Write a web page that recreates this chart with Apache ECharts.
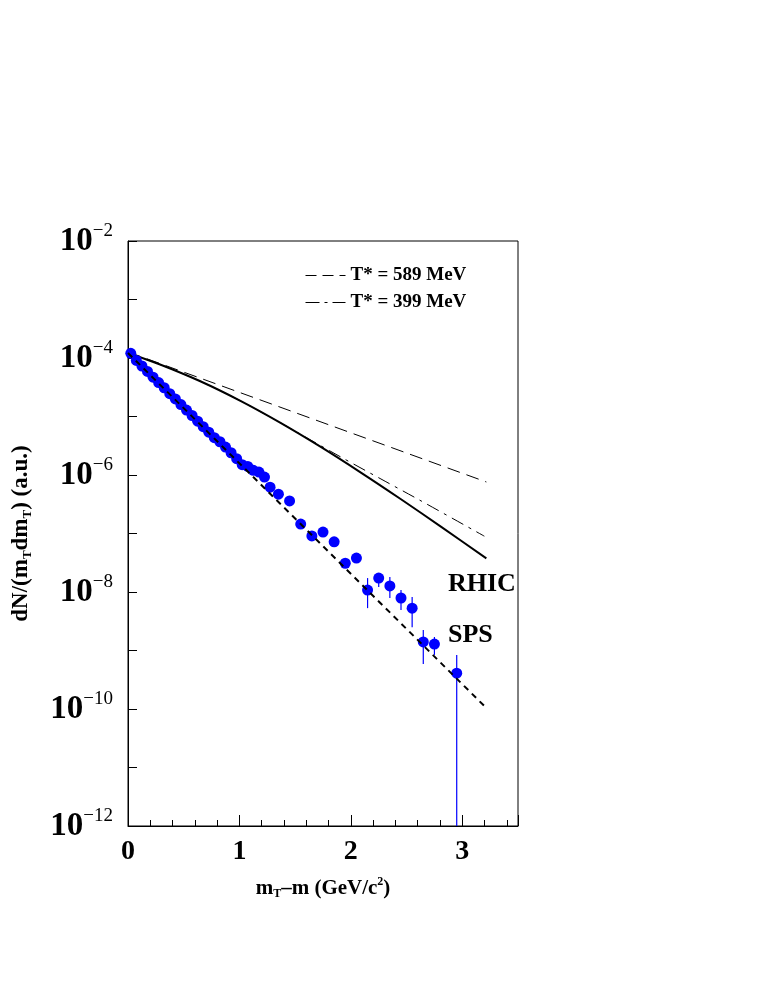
<!DOCTYPE html>
<html>
<head>
<meta charset="utf-8">
<script src="https://cdn.jsdelivr.net/npm/echarts@6/dist/echarts.min.js"></script>
<style>
  html, body { margin: 0; background: #fff; }
  #chart { width: 763px; height: 987px; }
</style>
</head>
<body>
<div id="chart"></div>
<script>
// SPS data (blue points)
const spsX = [0.025, 0.075, 0.125, 0.175, 0.225, 0.275, 0.325, 0.375, 0.425, 0.475,
  0.525, 0.575, 0.625, 0.675, 0.725, 0.775, 0.825, 0.875, 0.925, 0.975,
  1.025, 1.075, 1.125, 1.175, 1.225, 1.275, 1.35, 1.45, 1.55, 1.65,
  1.75, 1.85, 1.95, 2.05, 2.15, 2.25, 2.35, 2.45, 2.55, 2.65, 2.75, 2.95];
const spsY = [1.2e-4, 9.1e-5, 7.3e-5, 5.9e-5, 4.7e-5, 3.8e-5, 3.1e-5, 2.45e-5, 2.0e-5, 1.6e-5,
  1.29e-5, 1.04e-5, 8.3e-6, 6.7e-6, 5.4e-6, 4.35e-6, 3.7e-6, 3.0e-6, 2.4e-6, 1.9e-6,
  1.5e-6, 1.4e-6, 1.2e-6, 1.12e-6, 9.2e-7, 6.2e-7, 4.7e-7, 3.6e-7, 1.45e-7, 9.1e-8,
  1.06e-7, 7.2e-8, 3.1e-8, 3.8e-8, 1.08e-8, 1.73e-8, 1.27e-8, 7.9e-9, 5.3e-9, 1.4e-9, 1.29e-9, 4.1e-10];

// error bars (only where visible)
const errX = [2.15, 2.25, 2.35, 2.45, 2.55, 2.65, 2.75, 2.95];
const errLo = [5.3e-9, 1.22e-8, 7.9e-9, 4.9e-9, 2.5e-9, 5.9e-10, 8.4e-10, 1e-12];
const errHi = [1.73e-8, 2.1e-8, 1.8e-8, 1.08e-8, 8.2e-9, 2.24e-9, 1.7e-9, 8.4e-10];

// RHIC curve (solid)
const rhicX = [0, 0.288, 0.649, 1.009, 1.369, 1.73, 2.09, 2.45, 2.811, 3.216];
const rhicY = [1.22e-4, 7.74e-5, 4.0e-5, 1.85e-5, 7.78e-6, 3.02e-6, 1.10e-6, 3.85e-7, 1.30e-7, 3.75e-8];

// T* = 399 MeV (dash-dot)
const t399X = [0, 0.288, 0.649, 1.009, 1.369, 1.55, 1.91, 2.27, 2.631, 3.198];
const t399Y = [1.22e-4, 7.74e-5, 4.0e-5, 1.85e-5, 7.78e-6, 4.94e-6, 2.03e-6, 8.55e-7, 3.6e-7, 9.0e-8];

// T* = 589 MeV (dashed)
const t589X = [0, 3.216];
const t589Y = [1.27e-4, 7.6e-7];

// SPS exponential fit (dashed)
const fitX = [0, 3.216];
const fitY = [1.22e-4, 1.04e-10];

const xTickLabels = [0, 1, 2, 3];

const pair = (xs, ys) => xs.map((x, i) => [x, ys[i]]);
const serif = 'Liberation Serif';

let chart = echarts.init(document.getElementById('chart'));
let option = {
  backgroundColor: '#fff',
  animation: false,
  grid: {
    left: 128, right: 245, top: 241, bottom: 161,
    show: true, borderColor: '#000', borderWidth: 1, backgroundColor: 'transparent'
  },
  legend: {
    orient: 'vertical',
    left: 305, top: 266, padding: 0,
    itemWidth: 40, itemHeight: 10, itemGap: 8,
    data: [
      { name: 'T* = 589 MeV', itemStyle: { opacity: 0 }, lineStyle: { color: '#000', width: 1, type: [11, 6] } },
      { name: 'T* = 399 MeV', itemStyle: { opacity: 0 }, lineStyle: { color: '#000', width: 1, type: [14, 5, 3, 5] } }
    ],
    textStyle: { fontFamily: serif, fontWeight: 'bold', fontSize: 19, color: '#000' }
  },
  xAxis: [
    {
      type: 'value', min: 0, max: 3.5, interval: 0.2,
      axisLine: { lineStyle: { color: '#000', width: 1 } },
      axisTick: { inside: true, length: 6, lineStyle: { color: '#000' } },
      axisLabel: { show: false },
      splitLine: { show: false }
    },
    {
      type: 'value', min: 0, max: 3.5, interval: 1, position: 'bottom',
      axisLine: { show: false },
      axisTick: { inside: true, length: 11, lineStyle: { color: '#000' } },
      axisLabel: {
        margin: 12, fontFamily: serif, fontWeight: 'bold', fontSize: 28, color: '#000',
        formatter: v => (xTickLabels.indexOf(v) >= 0 ? String(v) : '')
      },
      splitLine: { show: false },
      name: '{a|m}{s|T}{a|\u2013m (GeV/c}{p|2}{a|)}',
      nameLocation: 'middle', nameGap: 50,
      nameTextStyle: {
        rich: {
          a: { fontFamily: serif, fontWeight: 'bold', fontSize: 21, color: '#000' },
          s: { fontFamily: serif, fontWeight: 'bold', fontSize: 12, color: '#000', padding: [11, 0, 0, 0] },
          p: { fontFamily: serif, fontWeight: 'bold', fontSize: 12, color: '#000', padding: [0, 0, 13, 0] }
        }
      }
    }
  ],
  yAxis: {
    type: 'log', logBase: 10, min: 1e-12, max: 1e-2, splitNumber: 10,
    axisLine: { lineStyle: { color: '#000', width: 1 } },
    axisTick: { inside: true, length: 9, lineStyle: { color: '#000' } },
    splitLine: { show: false },
    axisLabel: {
      margin: 15,
      formatter: v => {
        const e = Math.round(Math.log10(v));
        return e % 2 === 0 ? '{b|10}{s|\u2212' + Math.abs(e) + '}' : '';
      },
      rich: {
        b: { fontFamily: serif, fontWeight: 'bold', fontSize: 33, color: '#000' },
        s: { fontFamily: serif, fontSize: 19, color: '#000', padding: [0, 0, 20, 0] }
      }
    },
    name: '{a|dN/(m}{s|T}{a|dm}{s|T}{a|) (a.u.)}',
    nameLocation: 'middle', nameGap: 94,
    nameTextStyle: {
      rich: {
        a: { fontFamily: serif, fontWeight: 'bold', fontSize: 23, color: '#000' },
        s: { fontFamily: serif, fontWeight: 'bold', fontSize: 13, color: '#000', padding: [12, 0, 0, 0] }
      }
    }
  },
  graphic: [
    { type: 'text', left: 448, top: 571, style: { text: 'RHIC', font: 'bold 26px "Liberation Serif"', fill: '#000' } },
    { type: 'text', left: 448, top: 622, style: { text: 'SPS', font: 'bold 26px "Liberation Serif"', fill: '#000' } }
  ],
  series: [
    {
      name: 'T* = 589 MeV', type: 'line', symbol: 'none', data: pair(t589X, t589Y),
      itemStyle: { color: '#000' },
      lineStyle: { color: '#000', width: 1, type: [13, 7] }, z: 2
    },
    {
      name: 'T* = 399 MeV', type: 'line', symbol: 'none', smooth: 0.3, data: pair(t399X, t399Y),
      itemStyle: { color: '#000' },
      lineStyle: { color: '#000', width: 1, type: [13, 6, 3, 6] }, z: 2
    },
    {
      name: 'RHIC', type: 'line', symbol: 'none', smooth: 0.3, data: pair(rhicX, rhicY),
      itemStyle: { color: '#000' },
      lineStyle: { color: '#000', width: 2 }, z: 3
    },
    {
      name: 'fit', type: 'line', symbol: 'none', data: pair(fitX, fitY),
      itemStyle: { color: '#000' },
      lineStyle: { color: '#000', width: 2, type: [6, 5] }, z: 5
    },
    {
      name: 'err', type: 'custom', data: errX.map((x, i) => [x, errLo[i], errHi[i]]),
      renderItem: (params, api) => {
        const lo = api.coord([api.value(0), api.value(1)]);
        const hi = api.coord([api.value(0), api.value(2)]);
        return {
          type: 'line',
          shape: { x1: lo[0], y1: lo[1], x2: hi[0], y2: hi[1] },
          style: { stroke: '#0000ff', lineWidth: 1.2 }
        };
      },
      z: 3
    },
    {
      name: 'SPS', type: 'scatter', data: pair(spsX, spsY),
      symbol: 'circle', symbolSize: 11,
      itemStyle: { color: '#0000ff', opacity: 1 }, z: 4
    }
  ]
};
option && chart.setOption(option);
</script>
</body>
</html>
